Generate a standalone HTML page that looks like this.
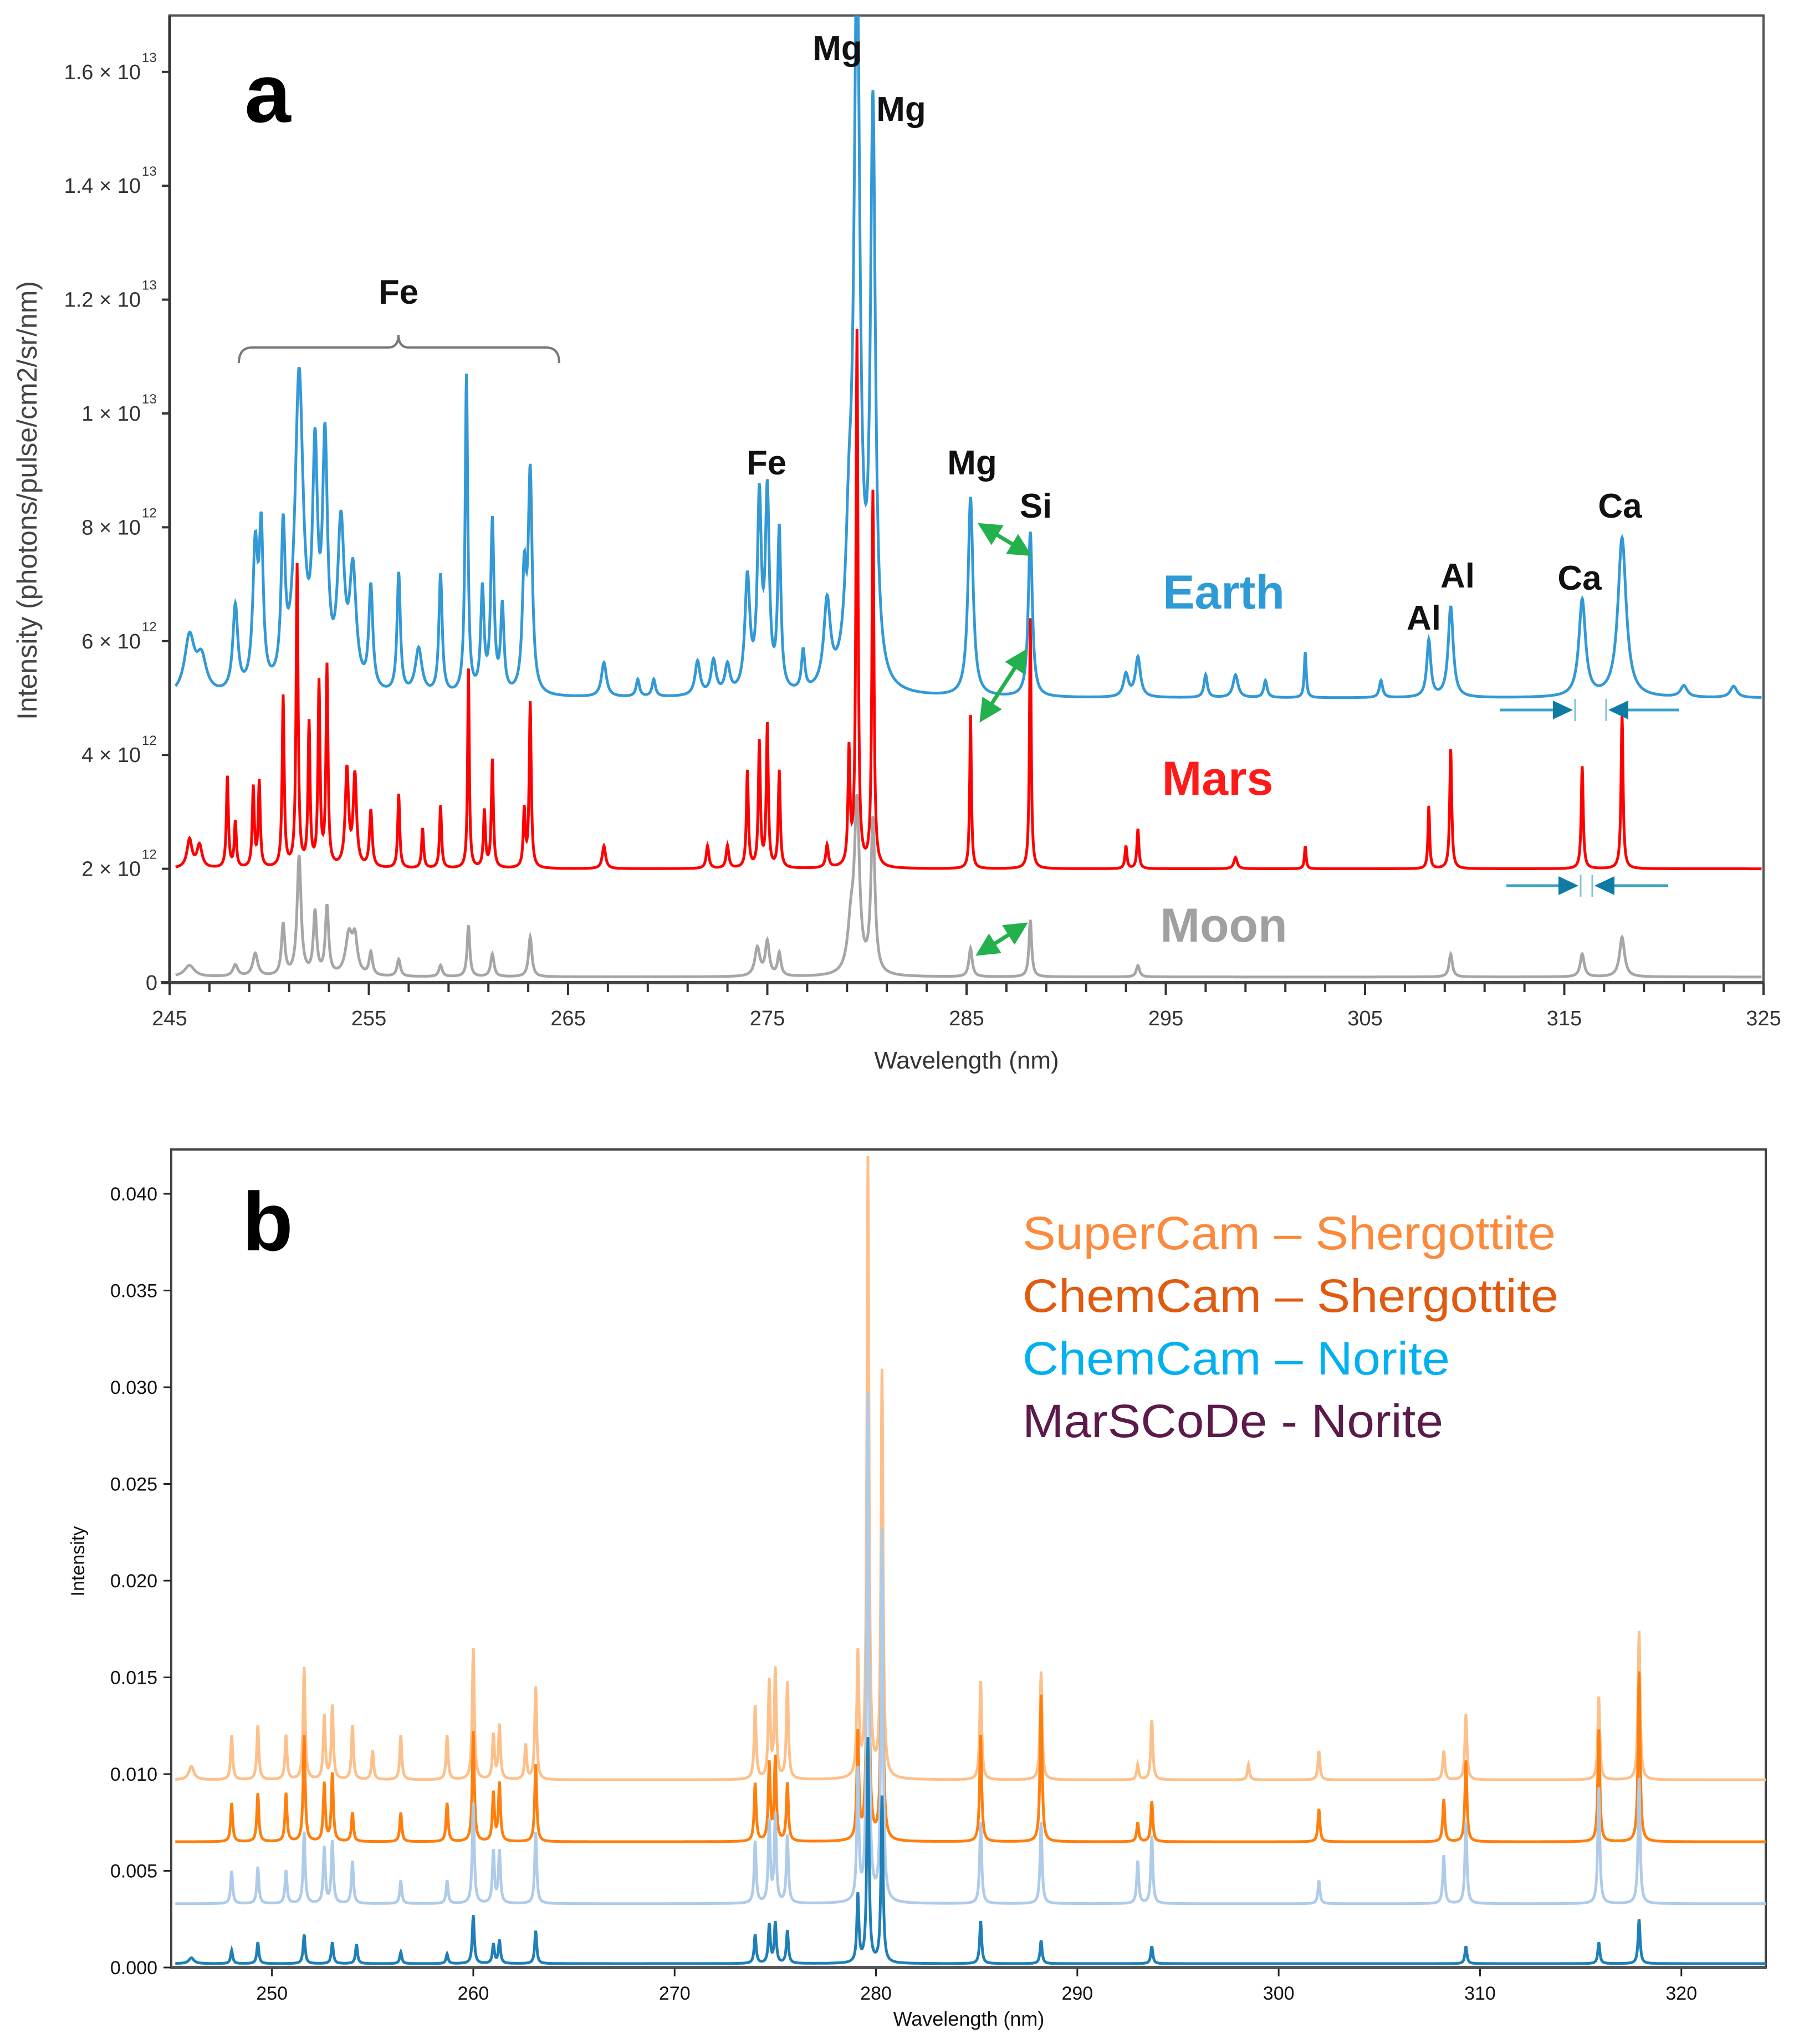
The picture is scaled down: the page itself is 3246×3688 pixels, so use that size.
<!DOCTYPE html>
<html><head><meta charset="utf-8"><style>
html,body{margin:0;padding:0;background:#fff;}
svg{display:block;}
text{font-family:"Liberation Sans","DejaVu Sans",sans-serif;}
</style></head><body>
<svg id="fig" width="3246" height="3688" viewBox="0 0 3246 3688" xmlns="http://www.w3.org/2000/svg">
<defs>
<clipPath id="clipA"><rect x="306" y="28" width="2876" height="1745"/></clipPath>
<clipPath id="clipB"><rect x="309" y="2074" width="2877" height="1478"/></clipPath>
<marker id="gArr" markerWidth="6" markerHeight="6" refX="4" refY="3" orient="auto-start-reverse" markerUnits="strokeWidth"><path d="M0,0 L6,3 L0,6 z" fill="#22b14c"/></marker>
</defs>
<g id="panelA"></g>
<g id="panelB"></g>
</svg>
<script>
// ---------- Panel a data (wavelength nm, intensity x1e12, width nm) ----------
const aXTicks = [245,255,265,275,285,295,305,315,325];
const aYTicks = [0,2,4,6,8,10,12,14,16];
const aYTickLabels = ["0","2 × 10","4 × 10","6 × 10","8 × 10","1 × 10","1.2 × 10","1.4 × 10","1.6 × 10"];
const aYTickExp = ["","12","12","12","12","13","13","13","13"];
const earthBase = 5.0;
const earthPeaks = [[246,6.0,0.3],[246.6,5.6,0.3],[248.3,6.5,0.15],[249.3,7.4,0.15],[249.6,7.6,0.12],[250.7,7.6,0.12],[251.5,10.5,0.25],[252.3,8.8,0.15],[252.8,9.1,0.15],[253.6,7.8,0.2],[254.2,7.0,0.2],[255.1,6.8,0.12],[256.5,7.1,0.1],[257.5,5.8,0.2],[258.6,7.1,0.1],[259.9,10.6,0.08],[260.7,6.8,0.1],[261.2,8.0,0.1],[261.7,6.5,0.1],[262.8,7.0,0.12],[263.1,8.8,0.12],[266.8,5.6,0.15],[268.5,5.3,0.1],[269.3,5.3,0.1],[271.5,5.6,0.15],[272.3,5.6,0.15],[273,5.5,0.15],[274,7.0,0.15],[274.6,8.3,0.12],[275,8.4,0.12],[275.6,7.8,0.1],[276.8,5.7,0.1],[278,6.5,0.2],[279.1,7.0,0.2],[279.5,17.5,0.18],[280.3,15.0,0.15],[285.2,8.5,0.15],[288.2,7.9,0.12],[293,5.4,0.15],[293.6,5.7,0.15],[297,5.4,0.1],[298.5,5.4,0.15],[300,5.3,0.1],[302,5.8,0.06],[305.8,5.3,0.1],[308.2,6.0,0.12],[309.3,6.6,0.15],[315.9,6.7,0.2],[317.9,7.8,0.25],[321,5.2,0.2],[323.5,5.2,0.2]];
const marsBase = 2.0;
const marsPeaks = [[246,2.5,0.15],[246.5,2.4,0.15],[247.9,3.6,0.06],[248.3,2.8,0.06],[249.2,3.4,0.06],[249.5,3.5,0.06],[250.7,5.0,0.06],[251.4,7.3,0.06],[252,4.5,0.06],[252.5,5.2,0.06],[252.9,5.5,0.06],[253.9,3.7,0.1],[254.3,3.6,0.1],[255.1,3.0,0.08],[256.5,3.3,0.06],[257.7,2.7,0.06],[258.6,3.1,0.06],[260,5.5,0.05],[260.8,3.0,0.06],[261.2,3.9,0.06],[262.8,3.0,0.06],[263.1,4.9,0.06],[266.8,2.4,0.1],[272,2.4,0.08],[273,2.4,0.08],[274,3.7,0.06],[274.6,4.2,0.06],[275,4.5,0.06],[275.6,3.7,0.06],[278,2.4,0.08],[279.1,4.0,0.06],[279.5,11.4,0.06],[280.3,8.6,0.06],[285.2,4.7,0.05],[288.2,6.4,0.05],[293,2.4,0.06],[293.6,2.7,0.06],[298.5,2.2,0.1],[302,2.4,0.05],[308.2,3.1,0.05],[309.3,4.1,0.06],[315.9,3.8,0.06],[317.9,4.7,0.06]];
const moonBase = 0.1;
const moonPeaks = [[246,0.3,0.3],[248.3,0.3,0.15],[249.3,0.5,0.15],[250.7,1.0,0.1],[251.5,2.2,0.12],[252.3,1.2,0.1],[252.9,1.3,0.1],[254,0.8,0.2],[254.3,0.7,0.15],[255.1,0.5,0.1],[256.5,0.4,0.1],[258.6,0.3,0.1],[260,1.0,0.08],[261.2,0.5,0.1],[263.1,0.8,0.1],[274.5,0.6,0.15],[275,0.7,0.12],[275.6,0.5,0.1],[279.2,0.9,0.2],[279.5,3.0,0.15],[280.3,2.8,0.12],[285.2,0.6,0.1],[288.2,1.1,0.08],[293.6,0.3,0.1],[309.3,0.5,0.1],[315.9,0.5,0.12],[317.9,0.8,0.15]];

// ---------- Panel b data (wavelength nm, intensity, width nm) ----------
const bXTicks = [250,260,270,280,290,300,310,320];
const bYTicks = [0,0.005,0.010,0.015,0.020,0.025,0.030,0.035,0.040];
const bYTickLabels = ["0.000","0.005","0.010","0.015","0.020","0.025","0.030","0.035","0.040"];
const superBase = 0.0097;
const superPeaks = [[246,0.0104,0.15],[248,0.0120,0.05],[249.3,0.0125,0.05],[250.7,0.0120,0.05],[251.6,0.0155,0.06],[252.6,0.0130,0.05],[253,0.0135,0.05],[254,0.0125,0.06],[255,0.0112,0.05],[256.4,0.0120,0.05],[258.7,0.0120,0.05],[260,0.0165,0.04],[261,0.0120,0.05],[261.3,0.0125,0.05],[262.6,0.0115,0.05],[263.1,0.0145,0.04],[274,0.0135,0.04],[274.7,0.0147,0.04],[275,0.0153,0.04],[275.6,0.0147,0.04],[279.1,0.0160,0.04],[279.6,0.0417,0.04],[280.3,0.0307,0.04],[285.2,0.0148,0.04],[288.2,0.0153,0.04],[293,0.0105,0.04],[293.7,0.0128,0.04],[298.5,0.0105,0.05],[302,0.0112,0.04],[308.2,0.0112,0.04],[309.3,0.0131,0.04],[315.9,0.0140,0.04],[317.9,0.0174,0.04]];
const chemShBase = 0.0065;
const chemShPeaks = [[248,0.0085,0.05],[249.3,0.0090,0.05],[250.7,0.0090,0.05],[251.6,0.0120,0.06],[252.6,0.0095,0.05],[253,0.0100,0.05],[254,0.0080,0.06],[256.4,0.0080,0.05],[258.7,0.0085,0.05],[260,0.0122,0.04],[261,0.0090,0.05],[261.3,0.0095,0.05],[263.1,0.0105,0.04],[274,0.0095,0.04],[274.7,0.0105,0.04],[275,0.0108,0.04],[275.6,0.0095,0.04],[279.1,0.0120,0.04],[279.6,0.0265,0.04],[280.3,0.0215,0.04],[285.2,0.0120,0.04],[288.2,0.0141,0.04],[293,0.0075,0.04],[293.7,0.0086,0.04],[302,0.0082,0.04],[308.2,0.0087,0.04],[309.3,0.0107,0.04],[315.9,0.0123,0.04],[317.9,0.0153,0.04]];
const noriteBase = 0.0033;
const noritePeaks = [[248,0.0050,0.05],[249.3,0.0052,0.05],[250.7,0.0050,0.05],[251.6,0.0070,0.06],[252.6,0.0062,0.05],[253,0.0065,0.05],[254,0.0055,0.06],[256.4,0.0045,0.05],[258.7,0.0045,0.05],[260,0.0085,0.04],[261,0.0060,0.05],[261.3,0.0060,0.05],[263.1,0.0070,0.04],[274,0.0065,0.04],[274.7,0.0075,0.04],[275,0.0078,0.04],[275.6,0.0068,0.04],[279.1,0.0100,0.04],[279.6,0.0295,0.04],[280.3,0.0225,0.04],[285.2,0.0075,0.04],[288.2,0.0075,0.04],[293,0.0055,0.04],[293.7,0.0068,0.04],[302,0.0045,0.04],[308.2,0.0058,0.04],[309.3,0.0075,0.04],[315.9,0.0093,0.04],[317.9,0.0098,0.04]];
const marsBaseB = 0.0002;
const marscodePeaks = [[246,0.0005,0.15],[248,0.0009,0.05],[249.3,0.0013,0.05],[251.6,0.0017,0.06],[253,0.0013,0.06],[254.2,0.0012,0.06],[256.4,0.0008,0.05],[258.7,0.0007,0.05],[260,0.0027,0.04],[261,0.0012,0.05],[261.3,0.0014,0.05],[263.1,0.0019,0.04],[274,0.0017,0.04],[274.7,0.0022,0.04],[275,0.0023,0.04],[275.6,0.0019,0.04],[279.1,0.0037,0.04],[279.6,0.0118,0.04],[280.3,0.0088,0.04],[285.2,0.0024,0.04],[288.2,0.0014,0.04],[293.7,0.0011,0.04],[309.3,0.0011,0.04],[315.9,0.0013,0.04],[317.9,0.0025,0.04]];

const NS = "http://www.w3.org/2000/svg";
function mk(tag, attrs, parent){const e=document.createElementNS(NS,tag);for(const k in attrs)e.setAttribute(k,attrs[k]);parent.appendChild(e);return e;}

const axA = {x0:306,x1:3182,w0:245,w1:325,y0:1773,perUnit:102.7};
function axAx(w){return axA.x0+(w-axA.w0)*(axA.x1-axA.x0)/(axA.w1-axA.w0);}
function axAy(v){return axA.y0-v*axA.perUnit;}
const axB = {x0:309,w0:245,pxPerNm:36.33,y0:3550,pxPerUnit:174.5/0.005};
function axBx(w){return axB.x0+(w-axB.w0)*axB.pxPerNm;}
function axBy(v){return axB.y0-v*axB.pxPerUnit;}

function spectrum(base,peaks,w,wmin){let s=base;for(const p of peaks){const g=Math.max(p[2],wmin||0);const d=(w-p[0])/g;s+=(p[1]-base)/(1+d*d);}return s;}
function pathFor(base,peaks,xf,yf,wa,wb,wmin){let d="";for(let w=wa;w<=wb+1e-9;w+=0.02){const X=xf(w),Y=yf(spectrum(base,peaks,w,wmin));d+=(d?"L":"M")+X.toFixed(1)+","+Y.toFixed(1);}return d;}

// ---------------- Panel A ----------------
const A=document.getElementById("panelA");
let e;
e=mk("rect",{x:306,y:28,width:2876,height:1745,fill:"none",stroke:"#555","stroke-width":4},A);


e=mk("line",{x1:306,y1:28,x2:306,y2:1773,stroke:"#333","stroke-width":5},A);


e=mk("line",{x1:290,y1:1773,x2:3182,y2:1773,stroke:"#444","stroke-width":6},A);


for(let w=245;w<=325;w+=2){const X=axAx(w);
 e=mk("line",{x1:X,y1:1773,x2:X,y2:w%10===5?1795:1790,stroke:"#333","stroke-width":4},A);
 
 }
for(const w of aXTicks){
 e=mk("text",{x:axAx(w),y:1850,"font-size":38,"text-anchor":"middle",fill:"#333"},A);e.textContent=w;
 
 }
aYTicks.forEach((v,i)=>{const Y=axAy(v);
 e=mk("line",{x1:292,y1:Y,x2:306,y2:Y,stroke:"#333","stroke-width":4},A);
 
 
 e=mk("text",{x:aYTickExp[i]?254:284,y:Y+13,"font-size":38,"text-anchor":"end",fill:"#333"},A);e.textContent=aYTickLabels[i];
 
 
 if(aYTickExp[i]){e=mk("text",{x:256,y:Y-18,"font-size":24,"text-anchor":"start",fill:"#333"},A);e.textContent=aYTickExp[i];
 
 }
});
e=mk("text",{x:0,y:0,"font-size":50,"text-anchor":"middle",fill:"#444",transform:"translate(66,903) rotate(-90)"},A);e.textContent="Intensity (photons/pulse/cm2/sr/nm)";


e=mk("text",{x:1744,y:1928,"font-size":44,"text-anchor":"middle",fill:"#333"},A);e.textContent="Wavelength (nm)";


const gA=mk("g",{"clip-path":"url(#clipA)"},A);
e=mk("path",{d:pathFor(moonBase,moonPeaks,axAx,axAy,245.3,324.9),fill:"none",stroke:"#a6a6a6","stroke-width":5},gA);


e=mk("path",{d:pathFor(marsBase,marsPeaks,axAx,axAy,245.3,324.9),fill:"none",stroke:"#ff0000","stroke-width":5},gA);


e=mk("path",{d:pathFor(earthBase,earthPeaks,axAx,axAy,245.3,324.9),fill:"none",stroke:"#3399d6","stroke-width":5},gA);


const lab=[["Mg",1511,108],["Mg",1626,218],["Fe",719,548],["Fe",1383,856],["Mg",1754,856],["Si",1869,934],["Ca",2923,934],["Al",2630,1060],["Al",2569,1136],["Ca",2850,1064]];
for(const l of lab){e=mk("text",{x:l[1],y:l[2],"font-size":62,"font-weight":"bold","text-anchor":"middle",fill:"#111"},A);e.textContent=l[0];
 
 }
const big=[["Earth",2208,1098,"#2e9bd6"],["Mars",2197,1434,"#ff1a1a"],["Moon",2208,1699,"#a0a0a0"]];
for(const b of big){e=mk("text",{x:b[1],y:b[2],"font-size":86,"font-weight":"bold","text-anchor":"middle",fill:b[3]},A);e.textContent=b[0];
 
 }
e=mk("text",{x:483,y:220,"font-size":150,"font-weight":"bold","text-anchor":"middle",fill:"#000"},A);e.textContent="a";


e=mk("path",{d:"M431,655 Q431,627 455,627 L700,627 Q719,627 719,604 Q719,627 738,627 L985,627 Q1009,627 1009,655",fill:"none",stroke:"#777","stroke-width":4},A);


for(const g of [[1776,951,1850,996],[1775,1292,1846,1182],[1772,1717,1843,1672]]){
 e=mk("line",{x1:g[0],y1:g[1],x2:g[2],y2:g[3],stroke:"#22b14c","stroke-width":7,"marker-start":"url(#gArr)","marker-end":"url(#gArr)"},A);
 
 }
function shiftArrows(y,xa,xta,xtb,xb){
 e=mk("line",{x1:xa,y1:y,x2:xta-30,y2:y,stroke:"#3aa3c6","stroke-width":5},A);
 
 
 e=mk("path",{d:`M${xta-40},${y-17} L${xta-4},${y} L${xta-40},${y+17}z`,fill:"#0e7ba3"},A);
 
 
 e=mk("line",{x1:xb,y1:y,x2:xtb+30,y2:y,stroke:"#3aa3c6","stroke-width":5},A);
 
 
 e=mk("path",{d:`M${xtb+40},${y-17} L${xtb+4},${y} L${xtb+40},${y+17}z`,fill:"#0e7ba3"},A);
 
 
 for(const t of [xta,xtb]){e=mk("line",{x1:t,y1:y-20,x2:t,y2:y+20,stroke:"#7fc0d8","stroke-width":3},A);
  
  }
}
shiftArrows(1281,2706,2842,2898,3030);
shiftArrows(1598,2718,2852,2873,3010);

// ---------------- Panel B ----------------
const B=document.getElementById("panelB");
e=mk("rect",{x:309,y:2074,width:2877,height:1476,fill:"none",stroke:"#444","stroke-width":4},B);


e=mk("line",{x1:309,y1:3550,x2:3186,y2:3550,stroke:"#555","stroke-width":6},B);


for(const w of bXTicks){const X=axBx(w);
 e=mk("line",{x1:X,y1:3552,x2:X,y2:3566,stroke:"#222","stroke-width":3},B);
 
 
 e=mk("text",{x:X,y:3608,"font-size":34,"text-anchor":"middle",fill:"#111"},B);e.textContent=w;
 
 }
bYTicks.forEach((v,i)=>{const Y=axBy(v);
 e=mk("line",{x1:295,y1:Y,x2:309,y2:Y,stroke:"#222","stroke-width":3},B);
 
 
 e=mk("text",{x:284,y:Y+12,"font-size":34,"text-anchor":"end",fill:"#111"},B);e.textContent=bYTickLabels[i];
 
 });
e=mk("text",{x:0,y:0,"font-size":34,"text-anchor":"middle",fill:"#111",transform:"translate(152,2817) rotate(-90)"},B);e.textContent="Intensity";


e=mk("text",{x:1748,y:3655,"font-size":36,"text-anchor":"middle",fill:"#111"},B);e.textContent="Wavelength (nm)";


const gB=mk("g",{"clip-path":"url(#clipB)"},B);
const bSeries=[[superBase,superPeaks,"#fdc08a","supercam-shergottite-spectrum"],[chemShBase,chemShPeaks,"#ff7f0e","chemcam-shergottite-spectrum"],[noriteBase,noritePeaks,"#aecbea","chemcam-norite-spectrum"],[marsBaseB,marscodePeaks,"#1f7fb8","marscode-norite-spectrum"]];
for(const s of bSeries){
 e=mk("path",{d:pathFor(s[0],s[1],axBx,axBy,245.2,324.2,0.06),fill:"none",stroke:s[2],"stroke-width":5},gB);
 
 }
e=mk("text",{x:483,y:2256,"font-size":150,"font-weight":"bold","text-anchor":"middle",fill:"#000"},B);e.textContent="b";


const leg=[["SuperCam – Shergottite","#fb8a3c",2254,962],["ChemCam – Shergottite","#e05a10",2367,967],["ChemCam – Norite","#00b0f0",2480,771],["MarSCoDe - Norite","#5b1a4a",2593,759]];
for(const l of leg){e=mk("text",{x:1845,y:l[2],"font-size":84,"text-anchor":"start",fill:l[1],textLength:l[3],lengthAdjust:"spacingAndGlyphs"},B);e.textContent=l[0];
 
 }
</script>
</body></html>
